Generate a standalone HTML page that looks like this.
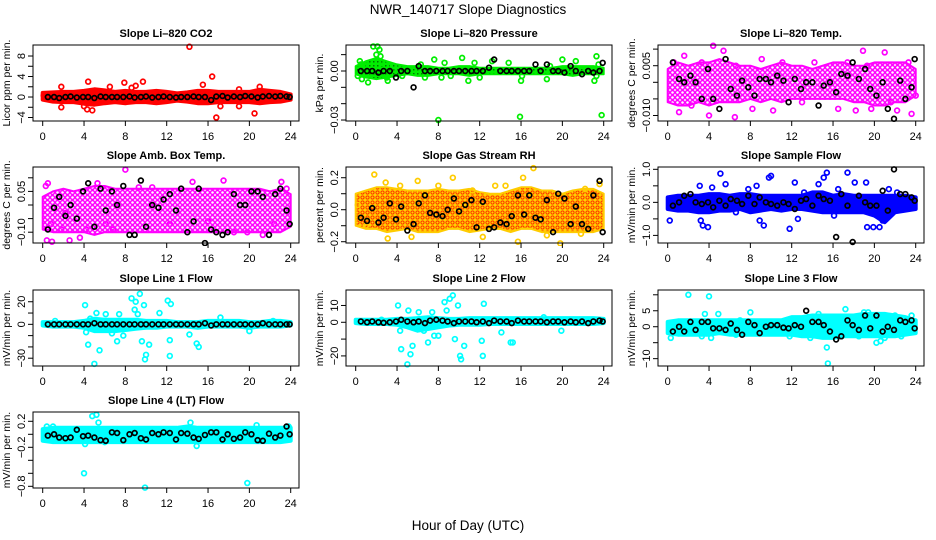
<!DOCTYPE html>
<html><head><meta charset="utf-8"><style>
html,body{margin:0;padding:0;background:#fff;}
svg{display:block;font-family:"Liberation Sans",sans-serif;}
</style></head><body>
<svg id="chart" width="936" height="540" viewBox="0 0 936 540" xmlns="http://www.w3.org/2000/svg">
<defs>
<pattern id="pat-mag" width="5" height="5" patternUnits="userSpaceOnUse"><rect width="5" height="5" fill="#fff"/><circle cx="2.5" cy="2.5" r="2" fill="none" stroke="#ff00ff" stroke-width="1.4"/></pattern>
<pattern id="pat-rh" width="5" height="5" patternUnits="userSpaceOnUse"><rect width="5" height="5" fill="#ffd000"/><circle cx="2.5" cy="2.5" r="1.6" fill="none" stroke="#ff2000" stroke-width="0.9"/></pattern>
<pattern id="pat-green" width="4" height="4" patternUnits="userSpaceOnUse"><rect width="4" height="4" fill="#00ee00"/><rect x="1" y="1" width="1.5" height="1.5" fill="#007700"/></pattern>
</defs>
<rect width="936" height="540" fill="#fff"/>
<text x="468" y="14" text-anchor="middle" font-size="13.5">NWR_140717  Slope Diagnostics</text>
<text x="468" y="530" text-anchor="middle" font-size="13.5">Hour of Day (UTC)</text>
</svg>
<script>
const hours=[0,1,2,3,4,5,6,7,8,9,10,11,12,13,14,15,16,17,18,19,20,21,22,23,24];
const xTicks=[0,4,8,12,16,20,24];
const blackHours=[0.5,1.1,1.6,2.2,2.7,3.3,3.9,4.4,5.0,5.6,6.1,6.7,7.2,7.8,8.4,8.9,9.5,10.0,10.6,11.2,11.7,12.3,12.9,13.4,14.0,14.6,15.1,15.7,16.3,16.8,17.4,17.9,18.5,19.1,19.6,20.2,20.8,21.3,21.9,22.5,23.0,23.6,23.9];

const co2Hi=[0.8,0.9,1.0,1.0,1.2,1.5,1.3,1.0,1.2,1.0,1.0,1.2,1.0,0.7,0.9,1.2,1.2,1.0,1.0,1.0,1.0,1.4,1.2,1.0,0.5];
const co2Lo=[-0.5,-0.9,-1.0,-1.0,-1.3,-1.5,-1.2,-1.0,-1.2,-1.0,-1.0,-1.2,-1.0,-0.7,-0.9,-1.2,-1.2,-1.0,-1.0,-1.0,-1.0,-1.2,-1.0,-0.9,-0.5];
const co2OutX=[14.2,16.4,16.8,20.5,4.4,7.9,9.7,1.8,1.8,4.0,4.3,4.8,6.5,8.6,9.0,15.5,17.2,19.0,19.0,21.0,0.1];
const co2OutY=[9.8,4,-4,-3.2,3,2.8,3,2,-2,-1.8,-2.4,-2.6,2,1.8,2.2,2.4,-1.8,1.5,-1.8,2,0.3];
const co2Black=[0,0,-0.2,0,0.1,-0.1,0,0,-0.2,0.1,0,0,0,0,0.1,-0.1,0,0.1,-0.1,0,0.1,0,-0.1,0,0,0.1,0,0,-0.6,0.1,0.2,-0.1,0.1,0,0.2,0.1,-0.1,0.1,0.2,0.1,0.2,0.1,0];

const presHi=[0.003,0.006,0.008,0.006,0.004,0.003,0.003,0.003,0.002,0.002,0.003,0.003,0.002,0.002,0.002,0.002,0.002,0.002,0.002,0.002,0.003,0.003,0.003,0.003,0.002];
const presLo=[-0.002,-0.004,-0.005,-0.004,-0.003,-0.002,-0.003,-0.003,-0.002,-0.002,-0.002,-0.003,-0.002,-0.002,-0.002,-0.002,-0.002,-0.002,-0.002,-0.002,-0.002,-0.003,-0.002,-0.002,-0.002];
const presOutX=[0.2,0.4,0.5,0.6,0.8,1.2,1.7,2.0,2.1,2.3,2.4,2.5,3.0,3.1,3.6,4.5,6.3,6.7,7.6,8.0,8.3,8.6,9.2,10.3,10.9,11.5,12.0,13.2,14.8,15.9,16.0,16.1,18.5,18.8,20.0,21.3,23.1,23.3,23.8,23.5,23.3];
const presOutY=[-0.003,0.006,0.004,-0.005,0.003,-0.007,0.015,0.010,0.015,0.013,0.009,0.005,-0.004,-0.006,0.003,-0.003,0.004,-0.004,0.007,-0.030,-0.004,0.005,-0.003,0.008,-0.006,0.005,-0.004,0.006,0.005,-0.028,-0.006,-0.003,-0.005,0.003,0.007,0.006,-0.006,0.009,-0.027,0.004,-0.003];
const presBlack=[0,0,0,-0.001,0,0,-0.004,0,0,-0.01,0.003,0,0,0,0,0,0,0,0,0,0,0,0.002,0.007,0,0,0,0,0,0,0.004,0,0.004,0,0,-0.001,0.003,0,-0.002,0,-0.001,0,0.005];

const tempHi=[0.004,0.006,0.005,0.006,0.006,0.007,0.006,0.005,0.005,0.004,0.005,0.006,0.005,0.005,0.004,0.005,0.006,0.006,0.005,0.005,0.006,0.006,0.006,0.006,0.004];
const tempLo=[-0.006,-0.007,-0.007,-0.006,-0.007,-0.006,-0.006,-0.006,-0.005,-0.006,-0.005,-0.006,-0.005,-0.005,-0.005,-0.005,-0.005,-0.005,-0.006,-0.006,-0.007,-0.007,-0.006,-0.006,-0.004];
const tempOutX=[0.6,1.1,1.6,2.3,3.3,4.0,4.4,5.4,6.5,6.6,8.2,9.1,10.2,11.1,13.0,14.2,16.5,17.4,18.2,18.9,19.3,19.7,21.0,21.6,22.2,23.6,23.3,24.0];
const tempOutY=[0.006,-0.009,0.008,-0.007,0.006,-0.010,0.011,0.0095,-0.0105,0.005,-0.008,0.007,-0.0085,0.006,-0.006,0.006,-0.008,0.006,-0.0085,0.0095,0.005,-0.008,0.009,-0.006,-0.0085,-0.0095,0.006,-0.004];
const tempBlack=[0.006,0.001,0,0.002,0,-0.005,0.004,-0.005,-0.008,0.007,-0.002,-0.004,0.0005,-0.0015,-0.004,0.001,0.001,0,0.002,0.0005,-0.006,0.001,-0.002,0,0,-0.007,-0.001,0,-0.003,0.0025,0.002,0.006,0.001,0.004,-0.002,-0.004,0,-0.008,-0.011,0.0005,-0.005,-0.0015,0.007];

const ambHi=[0.03,0.05,0.06,0.05,0.06,0.07,0.07,0.06,0.06,0.06,0.06,0.06,0.06,0.06,0.06,0.06,0.06,0.06,0.06,0.06,0.06,0.06,0.05,0.06,0.04];
const ambLo=[-0.09,-0.1,-0.1,-0.1,-0.1,-0.11,-0.1,-0.1,-0.1,-0.1,-0.1,-0.1,-0.1,-0.1,-0.1,-0.1,-0.1,-0.1,-0.1,-0.1,-0.1,-0.1,-0.1,-0.1,-0.08];
const ambOutX=[0.3,0.5,0.4,0.9,0.8,1.8,2.6,3.6,4.2,5.3,6.1,6.8,8.0,9.3,10.6,12.3,14.5,16.0,17.5,18.5,19.8,21.3,22.4,23.1,23.6,2.2,20.4];
const ambOutY=[0.07,0.08,-0.13,-0.135,-0.07,-0.09,-0.13,-0.12,-0.09,0.08,-0.07,-0.09,0.13,0.065,0.065,-0.07,0.085,-0.06,0.09,-0.1,-0.1,-0.11,-0.07,0.085,0.06,-0.03,0.05];
const ambBlack=[-0.09,-0.01,0.03,-0.04,0,-0.05,0.05,0.08,-0.08,0.06,-0.02,0.05,0,0.07,-0.11,-0.11,0.09,-0.08,0,-0.01,0.02,0.04,-0.02,0.06,-0.1,-0.06,0.06,-0.14,-0.09,-0.1,-0.11,-0.1,0.04,0,0,0.05,0.05,0.03,-0.11,0.04,0.06,-0.02,-0.07];

const rhHi=[0.1,0.12,0.14,0.14,0.13,0.12,0.12,0.12,0.13,0.12,0.12,0.13,0.11,0.1,0.1,0.12,0.14,0.14,0.12,0.12,0.1,0.12,0.13,0.13,0.1];
const rhLo=[-0.1,-0.12,-0.12,-0.14,-0.13,-0.12,-0.14,-0.14,-0.14,-0.12,-0.12,-0.14,-0.13,-0.12,-0.12,-0.14,-0.12,-0.12,-0.14,-0.14,-0.14,-0.14,-0.14,-0.14,-0.12];
const rhOutX=[0.2,1.8,2.9,4.3,3.1,6.0,8.0,9.4,11.3,14.5,16.2,17.2,19.8,22.2,23.6,5.4,12.3,15.7,21.8,18.5,1.0,13.5];
const rhOutY=[0.03,0.22,0.17,0.15,-0.18,0.18,0.15,0.2,0.12,0.15,0.2,0.26,-0.21,0.13,0.16,-0.17,-0.17,-0.2,-0.15,-0.16,-0.1,0.15];
const rhBlack=[-0.05,-0.07,0.01,-0.08,-0.05,0.04,-0.06,0.02,-0.13,-0.09,0.04,0.09,-0.02,-0.03,-0.04,0,0.07,-0.01,0.03,0.06,-0.11,0.05,-0.12,-0.11,-0.08,-0.09,-0.04,0.09,-0.03,0.09,-0.05,-0.06,0.06,-0.14,0.1,0.07,-0.09,0.02,-0.09,-0.12,0.09,0.18,-0.14];

const sampHi=[0.15,0.2,0.2,0.2,0.25,0.25,0.2,0.25,0.25,0.2,0.2,0.2,0.2,0.2,0.3,0.3,0.2,0.25,0.2,0.2,0.2,0.2,0.2,0.2,0.15];
const sampLo=[-0.2,-0.25,-0.25,-0.3,-0.3,-0.25,-0.25,-0.2,-0.3,-0.25,-0.2,-0.25,-0.2,-0.2,-0.25,-0.3,-0.3,-0.3,-0.3,-0.3,-0.4,-0.6,-0.3,-0.25,-0.2];
const sampOutX=[0.2,3.1,3.2,3.4,3.9,4.3,5.1,5.6,6.6,7.8,8.6,8.9,9.3,9.8,10.0,11.8,12.3,12.6,13.2,14.6,15.1,15.4,16.1,16.5,17.4,18.1,19.2,19.3,19.9,20.5,20.8,21.1,21.4,22.2];
const sampOutY=[-0.55,0.5,-0.55,-0.7,-0.75,0.45,0.87,0.55,-0.3,0.4,0.5,-0.55,-0.7,0.75,0.8,-0.8,0.6,-0.5,0.3,0.55,0.75,0.9,-0.4,0.4,0.9,0.6,0.6,-0.75,-0.75,-0.75,-0.55,-0.45,0.4,0.3];
const sampBlack=[-0.1,0,0.2,0.25,0,-0.05,0,-0.15,0.05,-0.1,0.1,0.05,-0.05,0.2,-0.05,0.15,0,-0.05,-0.1,0,-0.05,-0.2,0.05,0.1,-0.1,0.2,0.1,0.05,-1.05,0.25,-0.1,-1.2,0.2,0,-0.1,-0.1,0.35,-0.25,1.0,0.25,0.25,0.15,0.05];

const l1Hi=[2,2,2,2,3,5,4,4,4,4,3,3,3,2,2,2,3,3,3,3,2,2,3,3,2];
const l1Lo=[-1,-2,-2,-2,-3,-6,-6,-6,-5,-4,-3,-3,-2,-2,-2,-3,-2,-2,-2,-2,-3,-2,-2,-2,-1];
const l1OutX=[4.1,4.2,4.4,4.6,5.0,5.2,5.5,6.1,6.7,7.2,7.4,7.8,8.6,8.9,9.0,9.2,9.4,9.6,9.8,9.9,10.0,10.3,11.3,12.1,12.3,12.4,12.3,14.2,14.9,15.1,20.0,17.2,1.2,22.3];
const l1OutY=[17,-7,-18,5,-35,10,-23,9,-8,-15,9,-10,23,13,20,9,27,-15,17,-31,-27,-18,10,21,-14,18,-28,-9,-17,-20,-6,6,3,3];
const l1Black=[0,0,0,0,0,0,0,0,1,0,0,0,0,0,0,0,0,0,0,0,0,0,0,0,0,0,0,1,-1,0,0,0,0,0,0,0,0,1,0,0,0,0,0];

const l2Hi=[1.5,1.5,1.5,1.5,2,2,2.5,3,2.5,2,2,2.5,2.5,2.5,2.5,2.5,2.5,2.5,2.5,2.5,2.5,2.5,2.5,2.5,2];
const l2Lo=[-0.5,-1,-1,-1,-1.5,-3,-5,-4,-3,-2,-1.5,-1.5,-1.5,-1,-1,-1,-1,-1,-1,-1,-1,-1,-1,-1,-0.5];
const l2OutX=[4.1,4.3,4.4,5.0,5.1,5.3,5.5,6.1,6.6,7.0,7.4,7.6,8.0,8.6,8.8,9.1,9.4,9.6,9.9,10.1,10.2,10.5,12.2,12.3,12.4,14.1,15.0,15.2,19.9,2.5,18.2];
const l2OutY=[10,-5,-16,-25,7,-19,-14,6,-5,-12,6,-8,-8,12,7,14,16,-10,10,-20,-22,-14,-11,-20,11,-6,-12,-12,-5,1.5,3];
const l2Black=[0.5,0,0.5,0,-0.3,0,0.5,1.5,0.5,0,0.5,-0.5,1,1.5,1,0.5,-0.5,0.5,0.5,0.5,0,0.5,-0.5,1,0.5,0.5,-0.5,1,0.5,0.5,0.5,0.5,0,0.5,0.5,0,0.5,0,0.5,-0.5,0.5,1,0.5];

const l3Hi=[1.5,2,2,2,2,2,2,2,2,2,2,2,3,3,3.5,3.5,3.5,3.5,3.5,4,4,4,3.5,3,2];
const l3Lo=[-2,-2.5,-2.5,-2.5,-2.5,-2,-2.5,-2.5,-2.5,-2.5,-2.5,-2.5,-2.5,-3,-3,-3.5,-3.5,-3,-3,-3,-3,-3,-3,-2.5,-2];
const l3OutX=[0.3,1.7,2.0,3.3,3.6,4.0,4.2,4.9,6.6,7.0,8.0,9.0,11.8,12.6,13.6,13.8,14.6,15.4,15.5,16.2,16.8,17.2,18.5,19.0,19.4,20.2,20.6,21.0,22.0,22.6,23.6];
const l3OutY=[-3.5,-2,10,-3,4,9.5,-3.5,4,-2.5,2,4.5,-2,-3,-2,3,-3.5,4,-6.5,-11.5,3,-3,5.5,-3,4.5,4.5,-5,-4.5,-3.5,3.5,-3,3.5];
const l3Black=[-1.5,0,-1.5,1.5,-1,1.5,1.5,-0.5,-0.5,-1,1,-1,-2.5,1.5,0.5,-2,0,0.5,0.5,-0.3,-0.5,0.5,0,5,1.5,1.5,0.5,-1.5,-4,-3,2,0.5,-1,3.5,-0.5,3.5,-1.5,0,-1,2,1.5,2,-0.5];

const l4Hi=[0.08,0.1,0.1,0.1,0.1,0.1,0.1,0.1,0.1,0.1,0.1,0.1,0.1,0.1,0.12,0.1,0.1,0.1,0.1,0.1,0.1,0.1,0.1,0.1,0.1];
const l4Lo=[-0.1,-0.12,-0.12,-0.12,-0.12,-0.12,-0.12,-0.12,-0.12,-0.12,-0.12,-0.12,-0.12,-0.12,-0.12,-0.12,-0.12,-0.12,-0.12,-0.12,-0.12,-0.12,-0.12,-0.12,-0.1];
const l4OutX=[0.4,1.0,4.0,4.1,4.8,5.2,5.4,9.9,14.3,19.8,23.8,14.9,6.0,20.7];
const l4OutY=[0.12,0.12,-0.6,-0.15,0.28,0.3,0.18,-0.82,0.18,-0.75,0.12,-0.18,-0.12,0.14];
const l4Black=[-0.02,0,-0.05,-0.06,-0.05,0.07,-0.03,-0.02,-0.05,-0.09,-0.1,0.03,0.02,-0.09,0,0.02,-0.06,-0.08,0.02,0,0.03,0.02,-0.08,0.02,0.01,-0.05,-0.07,-0.01,0.03,0.03,-0.08,0,-0.07,-0.05,0.03,0,-0.09,-0.1,0.01,-0.05,-0.02,0.12,0];

const co2Ticks=[-4,-2,0,2,4,6,8], co2Labels=[-4,0,4,8];
const presTicks=[0.01,0,-0.01,-0.02,-0.03], presLabels=["0.00","-0.03"];
const tempTicks=[0.01,0.005,0,-0.005,-0.01], tempLabels=["0.005","-0.010"];
const ambTicks=[0.1,0.05,0,-0.05,-0.1], ambLabels=["0.05","-0.10"];
const rhTicks=[0.2,0.1,0,-0.1,-0.2], rhLabels=["0.2","0.0","-0.2"];
const sampTicks=[1,0.5,0,-0.5,-1], sampLabels=["1.0","0.0","-1.0"];
const l1Ticks=[20,10,0,-10,-20,-30], l1Labels=[20,0,-30];
const l2Ticks=[10,0,-10,-20], l2Labels=[10,0,-20];
const l3Ticks=[10,5,0,-5,-10], l3Labels=[5,0,-10];
const l4Ticks=[0.2,0,-0.2,-0.4,-0.6,-0.8], l4Labels=["0.2","-0.2","-0.8"];

const NS="http://www.w3.org/2000/svg";
const svg=document.getElementById('chart');
function mk(tag,attrs,parent){const e=document.createElementNS(NS,tag);for(const k in attrs)e.setAttribute(k,attrs[k]);(parent||svg).appendChild(e);return e;}

const panels=[
 {key:'co2',title:'Slope Li-820 CO2',ylab:'Licor ppm per min.',col:0,row:0,dom:[-4.68,10.15],color:'#ff0000',band:'#ff0000',hi:co2Hi,lo:co2Lo,ox:co2OutX,oy:co2OutY,bk:co2Black,ticks:co2Ticks,labels:co2Labels},
 {key:'pressure',title:'Slope Li-820 Pressure',ylab:'kPa per min.',col:1,row:0,dom:[-0.0306,0.0159],color:'#00ee00',band:'url(#pat-green)',edge:'#00ee00',hi:presHi,lo:presLo,ox:presOutX,oy:presOutY,bk:presBlack,ticks:presTicks,labels:presLabels},
 {key:'temp',title:'Slope Li-820 Temp.',ylab:'degrees C per min.',col:2,row:0,dom:[-0.01166,0.01124],color:'#ff00ff',band:'url(#pat-mag)',edge:'#ff00ff',hi:tempHi,lo:tempLo,ox:tempOutX,oy:tempOutY,bk:tempBlack,ticks:tempTicks,labels:tempLabels},
 {key:'amb',title:'Slope Amb. Box Temp.',ylab:'degrees C per min.',col:0,row:1,dom:[-0.1397,0.1397],color:'#ff00ff',band:'url(#pat-mag)',edge:'#ff00ff',hi:ambHi,lo:ambLo,ox:ambOutX,oy:ambOutY,bk:ambBlack,ticks:ambTicks,labels:ambLabels},
 {key:'rh',title:'Slope Gas Stream RH',ylab:'percent per min.',col:1,row:1,dom:[-0.208,0.267],color:'#ffcc00',band:'url(#pat-rh)',edge:'#ffcc00',hi:rhHi,lo:rhLo,ox:rhOutX,oy:rhOutY,bk:rhBlack,ticks:rhTicks,labels:rhLabels},
 {key:'sample',title:'Slope Sample Flow',ylab:'mV/min per min.',col:2,row:1,dom:[-1.23,1.07],color:'#0000ff',band:'#0000ff',hi:sampHi,lo:sampLo,ox:sampOutX,oy:sampOutY,bk:sampBlack,ticks:sampTicks,labels:sampLabels},
 {key:'line1',title:'Slope Line 1 Flow',ylab:'mV/min per min.',col:0,row:2,dom:[-36.9,30.4],color:'#00ffff',band:'#00ffff',hi:l1Hi,lo:l1Lo,ox:l1OutX,oy:l1OutY,bk:l1Black,ticks:l1Ticks,labels:l1Labels},
 {key:'line2',title:'Slope Line 2 Flow',ylab:'mV/min per min.',col:1,row:2,dom:[-26,19.2],color:'#00ffff',band:'#00ffff',hi:l2Hi,lo:l2Lo,ox:l2OutX,oy:l2OutY,bk:l2Black,ticks:l2Ticks,labels:l2Labels},
 {key:'line3',title:'Slope Line 3 Flow',ylab:'mV/min per min.',col:2,row:2,dom:[-12.3,11.5],color:'#00ffff',band:'#00ffff',hi:l3Hi,lo:l3Lo,ox:l3OutX,oy:l3OutY,bk:l3Black,ticks:l3Ticks,labels:l3Labels},
 {key:'line4',title:'Slope Line 4 (LT) Flow',ylab:'mV/min per min.',col:0,row:3,dom:[-0.826,0.343],color:'#00ffff',band:'#00ffff',hi:l4Hi,lo:l4Lo,ox:l4OutX,oy:l4OutY,bk:l4Black,ticks:l4Ticks,labels:l4Labels}
];
const colLeft=[33,346,658], rowTop=[45,167,290,412], PW=266, PH=76;
function fmt(v){return String(v).replace('-','\u2212');}

panels.forEach(p=>{
  const L=colLeft[p.col], T=rowTop[p.row], B=T+PH, R=L+PW;
  const xs=h=>L+9.7+h*(248/24);
  const ys=v=>T+(p.dom[1]-v)/(p.dom[1]-p.dom[0])*PH;
  const g=mk('g',{});
  
  
  const clip=mk('clipPath',{id:'clip-'+p.key},g);
  mk('rect',{x:L-3,y:T-3,width:PW+6,height:PH+6},clip);
  const marks=mk('g',{'clip-path':'url(#clip-'+p.key+')'},g);
  let d='';
  hours.forEach((h,i)=>{d+=(i?'L':'M')+xs(h).toFixed(1)+' '+ys(p.hi[i]).toFixed(1);});
  for(let i=hours.length-1;i>=0;i--)d+='L'+xs(hours[i]).toFixed(1)+' '+ys(p.lo[i]).toFixed(1);
  const band=mk('path',{d:d+'Z',fill:p.band,stroke:p.edge||p.band,'stroke-width':p.edge?2:4,'stroke-linejoin':'round'},marks);
  
  
  const n=Math.min(p.ox.length,p.oy.length);
  for(let i=0;i<n;i++){
    const c=mk('circle',{cx:xs(p.ox[i]),cy:ys(p.oy[i]),r:2.4,fill:'none',stroke:p.color,'stroke-width':1.7},marks);
    
    
  }
  const m=Math.min(blackHours.length,p.bk.length);
  for(let i=0;i<m;i++){
    const c=mk('circle',{cx:xs(blackHours[i]),cy:ys(p.bk[i]),r:2.4,fill:'none',stroke:'#000','stroke-width':1.7},marks);
    
    
  }
  const box=mk('rect',{x:L,y:T,width:PW,height:PH,fill:'none',stroke:'#000','stroke-width':1},g);
  
  
  xTicks.forEach(t=>{
    mk('line',{x1:xs(t),x2:xs(t),y1:B,y2:B+5,stroke:'#000'},g);
    const tx=mk('text',{x:xs(t),y:B+19,'text-anchor':'middle','font-size':11},g);
    tx.textContent=t;
    
    
  });
  p.ticks.forEach(t=>{mk('line',{x1:L,x2:L-5,y1:ys(t),y2:ys(t),stroke:'#000'},g);});
  p.labels.forEach(t=>{
    const y=ys(Number(t));
    const tx=mk('text',{x:L-8,y:y,'text-anchor':'middle','font-size':11,transform:'rotate(-90 '+(L-8)+' '+y+')'},g);
    tx.textContent=fmt(t);
    
    
  });
  const yt=mk('text',{x:L-23,y:T+PH/2,'text-anchor':'middle','font-size':10.5,transform:'rotate(-90 '+(L-23)+' '+(T+PH/2)+')'},g);
  yt.textContent=p.ylab;
  
  
  const tt=mk('text',{x:L+PW/2,y:T-8,'text-anchor':'middle','font-size':11,'font-weight':'bold'},g);
  tt.textContent=p.title.replace('Li-820','Li\u2013820');
  
  
});
</script>
</body></html>
